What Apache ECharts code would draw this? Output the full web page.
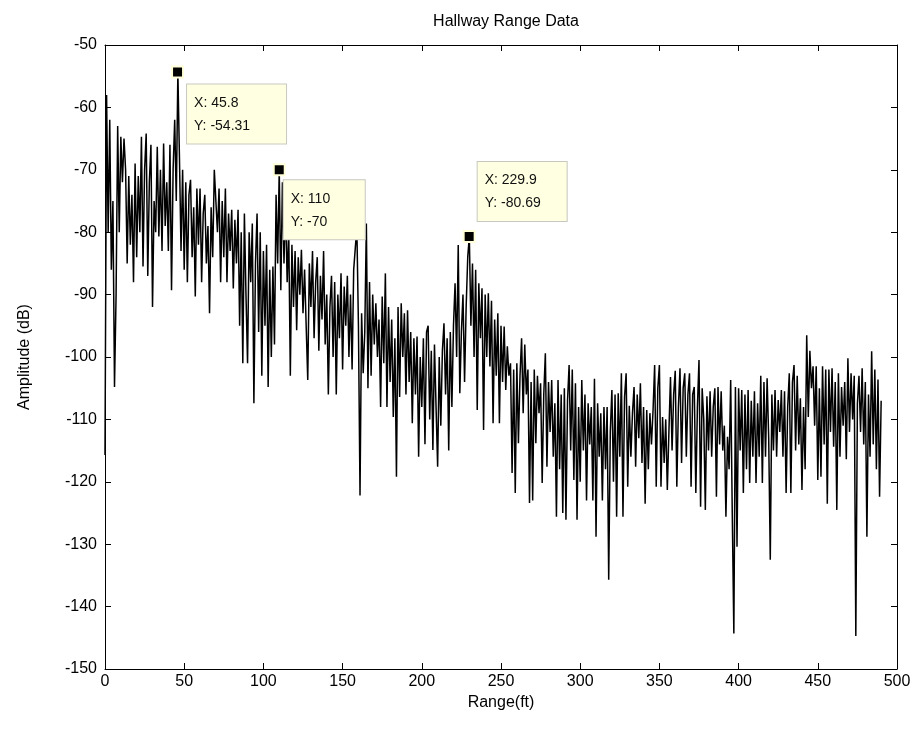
<!DOCTYPE html>
<html>
<head>
<meta charset="utf-8">
<script src="https://cdn.jsdelivr.net/npm/echarts@6/dist/echarts.min.js"></script>
<style>
html,body{margin:0;padding:0;background:#fff;}
#chart{width:917px;height:736px;}
</style>
</head>
<body>
<div id="chart"></div>
<script>
// ---- Data ----
const titleText = 'Hallway Range Data';
const xAxisName = 'Range(ft)';
const yAxisName = 'Amplitude (dB)';
const rangeStartFt = 0;
const rangeStepFt = 1;
// Amplitude (dB), one sample per foot from 0 to 490 ft
const amplitudeDb = [
-115.7,-58,-80,-62,-86,-75,-104.8,-90,-63,-80,
-64.7,-72,-65,-70,-85,-71,-82,-74,-88,-69,
-84,-71,-80,-64.7,-85.5,-70,-64.2,-87,-72,-66,
-92,-75,-80,-66.3,-80.7,-70,-83,-65.8,-79,-72,
-83,-66,-89.3,-70,-62,-75,-54.31,-68,-83,-70,
-86,-72,-88,-74,-71.6,-84,-76,-90.3,-73,-82,
-73,-88,-77,-74,-85,-79,-93,-76,-84,-70,
-69.8,-80,-73,-88,-75,-84,-73,-88,-77,-83,
-76.4,-89,-78,-85,-76.4,-95,-80,-101,-77,-90,
-101,-80,-88,-78.6,-107.4,-85,-77,-96,-80,-103,
-83,-95,-82,-104.8,-86,-100,-85.5,-98,-74,-85,
-70,-89.3,-72,-85,-75,-88,-80,-103,-82,-92,
-83,-95.7,-84,-90,-82.8,-93,-86,-95,-103.7,-85,
-92,-83,-97,-88,-84,-99,-87,-94,-83,-98,
-90,-106,-92,-87,-100,-88,-106,-90,-97,-86.6,
-102,-88.7,-95,-87,-100,-90,-102,-86,-82.6,-79.3,
-95,-122.2,-93,-102.6,-96,-78.6,-105,-88,-103,-90,
-98,-91.4,-100,-94,-108,-90.3,-101,-86.6,-108,-92,
-104,-94,-109.6,-97,-119.2,-92,-106.4,-91.4,-100,-93,
-106,-92.5,-104,-96,-110.6,-97,-106,-96.7,-116,-100,
-108,-97,-114,-96,-95,-110,-99,-114.9,-98,-108,
-117.6,-100,-111,-99,-94.6,-106,-97,-115,-96,-108,
-95,-88.2,-100,-82.05,-105.8,-96,-90,-104,-92,-84,
-80.69,-95,-85,-100,-86,-108.5,-88.2,-97,-89,-111.7,
-90,-100,-89.8,-101.5,-91,-110.6,-94,-103,-93,-110.6,
-95,-104,-95.1,-105.3,-98.3,-103,-101,-118.6,-102,-121.8,
-101,-113.8,-103,-97,-109,-98,-106,-102,-123.4,-104,
-123,-102,-113.8,-103,-109,-104.2,-120.2,-106,-99.4,-117.6,
-104,-112,-103.7,-116,-107.4,-125.6,-103.7,-118,-106,-125,
-105,-126.1,-107,-101.3,-115,-102,-119.7,-104.2,-126.1,-108,
-120,-103.7,-115,-106,-123,-107.4,-114,-108,-123,-103.5,
-128.8,-107.4,-116,-109,-123,-108,-118,-108,-135.7,-112,
-105.3,-120,-106,-125.6,-105.8,-116,-102.6,-125.6,-106.4,-102.6,
-120.8,-107.8,-116,-109,-104.8,-117.6,-106,-113,-104.2,-117,
-108,-123.5,-108.5,-118,-109,-114,-108.5,-101.3,-120.8,-105,
-101.3,-120.8,-109.6,-117,-110,-121.3,-112,-103.2,-115,-106,
-102.2,-120.8,-108,-101.8,-117,-105,-102.6,-116,-106,-102.6,
-120.8,-106,-104.8,-121.8,-108,-100.5,-124,-105,-110,-124.5,
-106.3,-115,-105.5,-116,-108,-105,-122.4,-104.8,-114,-105.5,
-115,-111,-125.6,-112.8,-118,-103.7,-125,-144.3,-104.8,-130.4,
-105,-115,-105.3,-121.8,-106,-118,-105.3,-120.2,-107,-116,
-105.5,-120.2,-107.4,-116,-103,-120.2,-104,-116,-103.4,-113,
-132.5,-106,-115,-105.3,-116,-106.9,-112,-105.3,-116,-105.5,
-121.8,-108,-102.6,-121.8,-104,-101.3,-115,-103,-114,-106.6,
-121.3,-108,-118,-96.5,-109.6,-99,-105,-101.5,-111,-101.5,
-119.7,-105,-119.2,-101.5,-114,-102,-123.5,-102,-112,-101.8,
-114.4,-104,-124.5,-102.6,-116,-104.8,-111,-104,-116.4,-100.2,
-112,-102.6,-110,-103,-144.7,-107.5,-103,-112,-101.8,-114,
-104,-128.8,-106,-116,-99.1,-114,-102,-118,-103.6,-122.4,
-107
];
// Data tips
const tipX = [45.8, 110, 229.9];
const tipY = [-54.31, -70, -80.69];
// Axis ticks
const xMin = 0, xMax = 500, xStep = 50;
const yMin = -150, yMax = -50, yStep = 10;

// ---- Chart ----
const lineData = amplitudeDb.map((v, i) => [rangeStartFt + i * rangeStepFt, v]);
const tipLabelPos = [[16, 19], [11, 17], [15, -68]];
const tipLabelWidth = [86, 68, 76];
const tipData = tipX.map((x, i) => ({
  value: [x, tipY[i]],
  label: { position: tipLabelPos[i], width: tipLabelWidth[i] }
}));

const font = '"Liberation Sans", Arial, sans-serif';
const chart = echarts.init(document.getElementById('chart'), null, { renderer: 'canvas' });
const axisCommon = {
  axisLine: { show: true, onZero: false, lineStyle: { color: '#000', width: 1 } },
  axisTick: { show: true, inside: true, length: 6, lineStyle: { color: '#000' } },
  splitLine: { show: false }
};
chart.setOption({
  animation: false,
  backgroundColor: '#fff',
  title: {
    text: titleText, left: 501, top: 9, textAlign: 'center',
    textStyle: { fontFamily: font, fontSize: 16, fontWeight: 'normal', color: '#000' }
  },
  grid: { left: 105, right: 20, top: 45, bottom: 67, show: false },
  xAxis: [
    Object.assign({}, axisCommon, {
      type: 'value', min: xMin, max: xMax, interval: xStep, position: 'bottom',
      name: xAxisName, nameLocation: 'middle', nameGap: 19,
      nameTextStyle: { fontFamily: font, fontSize: 16, color: '#000', verticalAlign: 'top' },
      axisLabel: { fontFamily: font, fontSize: 16, color: '#000', margin: 5 }
    }),
    Object.assign({}, axisCommon, {
      type: 'value', min: xMin, max: xMax, interval: xStep, position: 'top',
      axisLabel: { show: false }
    })
  ],
  yAxis: [
    Object.assign({}, axisCommon, {
      type: 'value', min: yMin, max: yMax, interval: yStep, position: 'left',
      name: yAxisName, nameLocation: 'middle', nameGap: 72, nameRotate: 90,
      nameTextStyle: { fontFamily: font, fontSize: 16, color: '#000' },
      axisLabel: { fontFamily: font, fontSize: 16, color: '#000', margin: 8 }
    }),
    Object.assign({}, axisCommon, {
      type: 'value', min: yMin, max: yMax, interval: yStep, position: 'right',
      axisLabel: { show: false }
    })
  ],
  series: [
    {
      type: 'line', data: lineData, xAxisIndex: 0, yAxisIndex: 0,
      showSymbol: false, symbol: 'none', sampling: null,
      lineStyle: { color: '#000', width: 1.5 }, z: 2
    },
    {
      type: 'scatter', data: tipData, xAxisIndex: 0, yAxisIndex: 0,
      symbol: 'rect', symbolSize: 11,
      itemStyle: { color: '#000', borderColor: '#ffffd8', borderWidth: 2, opacity: 1 },
      label: {
        show: true,
        formatter: p => 'X: ' + p.value[0] + '\nY: ' + p.value[1],
        fontFamily: font, fontSize: 14, color: '#111', lineHeight: 23,
        backgroundColor: '#ffffe1', borderColor: '#c8c8c0', borderWidth: 1,
        padding: [7, 6, 6, 7], align: 'left', verticalAlign: 'top'
      },
      z: 5
    }
  ]
});
</script>
</body>
</html>
